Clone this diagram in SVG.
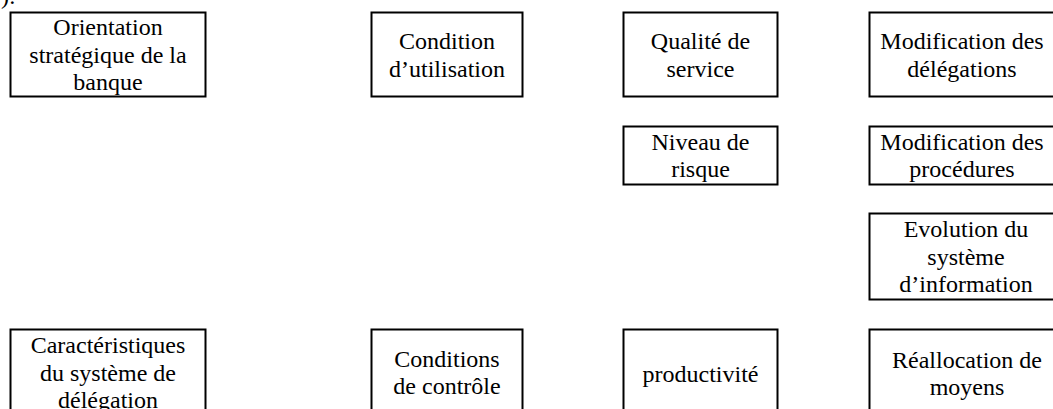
<svg xmlns="http://www.w3.org/2000/svg" width="1053" height="409" viewBox="0 0 1053 409">
  <style>
    .box { fill: #ffffff; stroke: #000000; stroke-width: 2; }
    .lbl { font-family: "Liberation Serif", "Times New Roman", serif; font-size: 24px; fill: #000000; text-anchor: middle; }
    .frag { font-family: "Liberation Serif", "Times New Roman", serif; font-size: 24px; fill: #000000; }
  </style>
  <rect width="1053" height="409" fill="#ffffff"/>
  <text class="frag" x="1" y="3.5">):</text>

  <g id="connectors"></g>

  <g id="orientation">
    <rect class="box" x="10.5" y="12.5" width="195" height="84"/>
    <text class="lbl" x="108" y="35">Orientation</text>
    <text class="lbl" x="108" y="62.5">stratégique de la</text>
    <text class="lbl" x="108" y="90">banque</text>
  </g>
  <g id="condition-utilisation">
    <rect class="box" x="371.5" y="12.5" width="151" height="84"/>
    <text class="lbl" x="447" y="49">Condition</text>
    <text class="lbl" x="447" y="76.5">d’utilisation</text>
  </g>
  <g id="qualite-service">
    <rect class="box" x="623.5" y="12.5" width="154" height="84"/>
    <text class="lbl" x="700.5" y="49">Qualité de</text>
    <text class="lbl" x="700.5" y="76.5">service</text>
  </g>
  <g id="modif-delegations">
    <rect class="box" x="869.5" y="12.5" width="200" height="84"/>
    <text class="lbl" x="962" y="49">Modification des</text>
    <text class="lbl" x="962" y="76.5">délégations</text>
  </g>
  <g id="niveau-risque">
    <rect class="box" x="623.5" y="126.5" width="154" height="58"/>
    <text class="lbl" x="700.5" y="150">Niveau de</text>
    <text class="lbl" x="700.5" y="177">risque</text>
  </g>
  <g id="modif-procedures">
    <rect class="box" x="869.5" y="126.5" width="200" height="58"/>
    <text class="lbl" x="962" y="150">Modification des</text>
    <text class="lbl" x="962" y="177">procédures</text>
  </g>
  <g id="evolution-si">
    <rect class="box" x="869.5" y="213.5" width="200" height="86"/>
    <text class="lbl" x="966" y="237">Evolution du</text>
    <text class="lbl" x="966" y="264.5">système</text>
    <text class="lbl" x="966" y="292">d’information</text>
  </g>
  <g id="caracteristiques">
    <rect class="box" x="10.5" y="329.5" width="195" height="100"/>
    <text class="lbl" x="108" y="353">Caractéristiques</text>
    <text class="lbl" x="108" y="380.5">du système de</text>
    <text class="lbl" x="108" y="408">délégation</text>
  </g>
  <g id="conditions-controle">
    <rect class="box" x="371.5" y="329.5" width="151" height="100"/>
    <text class="lbl" x="447" y="366.5">Conditions</text>
    <text class="lbl" x="447" y="393.5">de contrôle</text>
  </g>
  <g id="productivite">
    <rect class="box" x="623.5" y="329.5" width="154" height="100"/>
    <text class="lbl" x="700.5" y="381.5">productivité</text>
  </g>
  <g id="reallocation">
    <rect class="box" x="869.5" y="329.5" width="200" height="100"/>
    <text class="lbl" x="967" y="368">Réallocation de</text>
    <text class="lbl" x="967" y="395">moyens</text>
  </g>
</svg>
